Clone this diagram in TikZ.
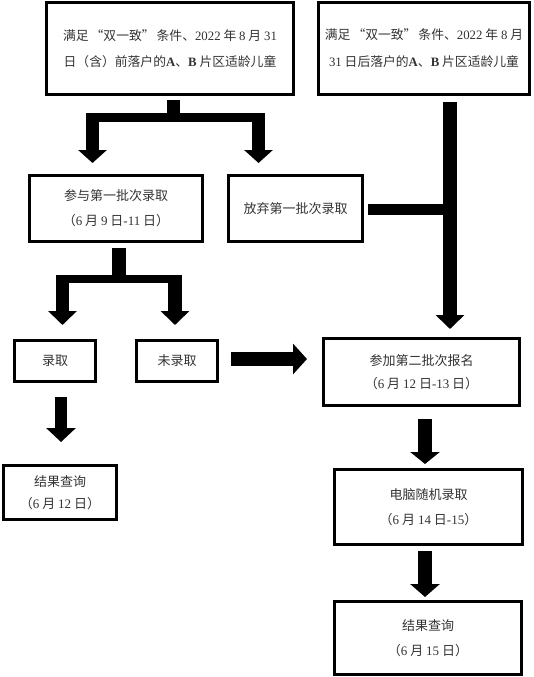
\documentclass[tikz,border=0pt]{standalone}
\usepackage{fontspec}
\setmainfont{Noto Sans CJK SC}
\newfontfamily\lat{Liberation Serif}
\usetikzlibrary{arrows.meta,calc}
\newcommand\zhlq{\hspace{2pt}“}
\newcommand\zhrq{”\hspace{2pt}}
\tikzset{
  box/.style={draw=black, line width=3pt, fill=white, align=center, inner sep=0pt,
    font=\fontsize{13}{25}\selectfont, text=black!80},
  shaft/.style={line width=#1, line cap=butt},
  shaft/.default=13.5pt,
  blockarrow/.style={line width=13.5pt, -{Triangle[width=28pt,length=13pt]}},
}
\begin{document}
\begin{tikzpicture}[x=1pt,y=-1pt]
\useasboundingbox (0,0) rectangle (534,677);
% boxes
\node[box, minimum width=247pt, minimum height=92pt, font=\fontsize{12.8}{26}\selectfont] (A) at (170,48.5)
  {满足\zhlq 双一致\zhrq 条件、{\lat 2022} 年 {\lat 8} 月 {\lat 31}\\日（含）前落户的{\lat\bfseries A}、{\lat\bfseries B} 片区适龄儿童};
\node[box, minimum width=211pt, minimum height=92pt, font=\fontsize{12.8}{27}\selectfont] (B) at (424,48.5)
  {满足\zhlq 双一致\zhrq 条件、{\lat 2022} 年 {\lat 8} 月\\{\lat 31} 日后落户的{\lat\bfseries A}、{\lat\bfseries B} 片区适龄儿童};
\node[box, minimum width=173pt, minimum height=66pt] (C) at (116,208.5)
  {参与第一批次录取\\（{\lat 6} 月 {\lat 9} 日{\lat -11} 日）};
\node[box, minimum width=134pt, minimum height=66pt] (D) at (295.5,208.5)
  {放弃第一批次录取};
\node[box, minimum width=81pt, minimum height=41pt] (E) at (55,361) {录取};
\node[box, minimum width=81pt, minimum height=41pt] (F) at (177,361) {未录取};
\node[box, minimum width=196pt, minimum height=67pt,
  font=\fontsize{13}{23}\selectfont] (G) at (421.5,372)
  {参加第二批次报名\\（{\lat 6} 月 {\lat 12} 日{\lat -13} 日）};
\node[box, minimum width=113pt, minimum height=54pt,
  font=\fontsize{13}{22}\selectfont] (H) at (60,492.5)
  {结果查询\\（{\lat 6} 月 {\lat 12} 日）};
\node[box, minimum width=188pt, minimum height=75pt] (I) at (428.5,507)
  {电脑随机录取\\（{\lat 6} 月 {\lat 14} 日{\lat -15}）};
\node[box, minimum width=187pt, minimum height=73pt] (J) at (428,638)
  {结果查询\\（{\lat 6} 月 {\lat 15} 日）};

% fork A -> C, D
\draw[shaft=13pt] ($(A.south)+(3.5,4)$) -- ($(A.south)+(3.5,26)$);
\draw[shaft=9pt] ($(A.south)+(-84,21.5)$) -- ($(A.south)+(95,21.5)$);
\draw[blockarrow] ($(C.north)+(-23.5,-61)$) -- ($(C.north)+(-23.5,-11)$);
\draw[blockarrow] ($(D.north)+(-37,-61)$) -- ($(D.north)+(-37,-11)$);

% B -> G with D joining
\coordinate (vtop) at ($(B.south)+(26,6)$);
\coordinate (vtip) at ($(G.north)+(28.5,-8)$);
\draw[line width=14pt, -{Triangle[width=28pt,length=14pt]}] (vtop) -- (vtip);
\coordinate (dstart) at ($(D.east)+(4,1)$);
\draw[shaft=11pt] (dstart) -- (dstart -| vtop);

% fork C -> E, F
\draw[shaft=14pt] ($(C.south)+(3,5)$) -- ($(C.south)+(3,40)$);
\draw[shaft=8pt] ($(C.south)+(-60,36)$) -- ($(C.south)+(66,36)$);
\draw[blockarrow, -{Triangle[width=28pt,length=14pt]}] ($(E.north)+(7.5,-64)$) -- ($(E.north)+(7.5,-14)$);
\draw[blockarrow, -{Triangle[width=28pt,length=14pt]}] ($(F.north)+(-2,-64)$) -- ($(F.north)+(-2,-14)$);

% F -> G
\draw[line width=14pt, -{Triangle[width=30pt,length=14pt]}] ($(F.east)+(12,-2)$) -- ($(G.west)+(-15,-13)$);

% E -> H
\draw[line width=12pt, -{Triangle[width=29pt,length=14pt]}] ($(E.south)+(6,14)$) -- ($(H.north)+(1,-22)$);

% G -> I
\draw[line width=14pt, -{Triangle[width=29pt,length=12pt]}] ($(G.south)+(3.5,12)$) -- ($(I.north)+(-3.5,-4)$);

% I -> J
\draw[line width=14pt, -{Triangle[width=29pt,length=13pt]}] ($(I.south)+(-3.5,5)$) -- ($(J.north)+(-3,-3)$);
\end{tikzpicture}
\end{document}
